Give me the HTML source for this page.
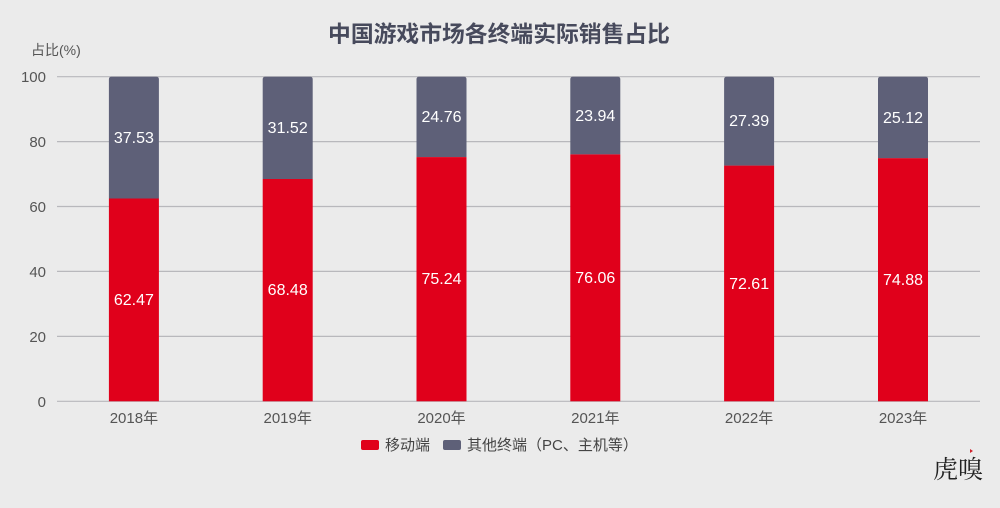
<!DOCTYPE html>
<html><head><meta charset="utf-8"><style>
html,body{margin:0;padding:0;background:#ebebeb;}
svg{display:block;}
text{font-family:"Liberation Sans","Noto Sans CJK SC",sans-serif;}
</style></head><body>
<svg width="1000" height="508" viewBox="0 0 1000 508" xmlns="http://www.w3.org/2000/svg">
<rect width="1000" height="508" fill="#ebebeb"/>
<text x="499" y="42" text-anchor="middle" font-size="22.8" font-weight="bold" fill="#474a5c">中国游戏市场各终端实际销售占比</text>
<text x="31" y="55" font-size="14" fill="#555">占比(%)</text>
<g stroke="#b8b8bc" stroke-width="1.2">
<line x1="57" y1="76.7" x2="980" y2="76.7"/>
<line x1="57" y1="141.6" x2="980" y2="141.6"/>
<line x1="57" y1="206.5" x2="980" y2="206.5"/>
<line x1="57" y1="271.4" x2="980" y2="271.4"/>
<line x1="57" y1="336.4" x2="980" y2="336.4"/>
<line x1="57" y1="401.3" x2="980" y2="401.3"/>
</g>
<g font-size="15" fill="#555" text-anchor="end">
<text x="46" y="82">100</text>
<text x="46" y="147">80</text>
<text x="46" y="212">60</text>
<text x="46" y="277">40</text>
<text x="46" y="342">20</text>
<text x="46" y="407">0</text>
</g>
<g>
<path d="M108.9 198.5 V79.2 Q108.9 76.7 111.4 76.7 H156.4 Q158.9 76.7 158.9 79.2 V198.5 Z" fill="#5e6078"/>
<rect x="108.9" y="198.5" width="50" height="202.8" fill="#e0001b"/>
<path d="M262.7 179.0 V79.2 Q262.7 76.7 265.2 76.7 H310.2 Q312.7 76.7 312.7 79.2 V179.0 Z" fill="#5e6078"/>
<rect x="262.7" y="179.0" width="50" height="222.3" fill="#e0001b"/>
<path d="M416.5 157.1 V79.2 Q416.5 76.7 419 76.7 H464 Q466.5 76.7 466.5 79.2 V157.1 Z" fill="#5e6078"/>
<rect x="416.5" y="157.1" width="50" height="244.2" fill="#e0001b"/>
<path d="M570.3 154.4 V79.2 Q570.3 76.7 572.8 76.7 H617.8 Q620.3 76.7 620.3 79.2 V154.4 Z" fill="#5e6078"/>
<rect x="570.3" y="154.4" width="50" height="246.9" fill="#e0001b"/>
<path d="M724.1 165.6 V79.2 Q724.1 76.7 726.6 76.7 H771.6 Q774.1 76.7 774.1 79.2 V165.6 Z" fill="#5e6078"/>
<rect x="724.1" y="165.6" width="50" height="235.7" fill="#e0001b"/>
<path d="M878 158.2 V79.2 Q878 76.7 880.5 76.7 H925.5 Q928 76.7 928 79.2 V158.2 Z" fill="#5e6078"/>
<rect x="878" y="158.2" width="50" height="243.1" fill="#e0001b"/>
</g>
<g font-size="16" fill="#ffffff" text-anchor="middle">
<text x="133.9" y="143">37.53</text>
<text x="133.9" y="305">62.47</text>
<text x="287.7" y="133">31.52</text>
<text x="287.7" y="295">68.48</text>
<text x="441.5" y="122">24.76</text>
<text x="441.5" y="284">75.24</text>
<text x="595.3" y="121">23.94</text>
<text x="595.3" y="283">76.06</text>
<text x="749.1" y="126">27.39</text>
<text x="749.1" y="289">72.61</text>
<text x="903" y="123">25.12</text>
<text x="903" y="285">74.88</text>
</g>
<g font-size="15" fill="#555" text-anchor="middle">
<text x="133.9" y="423">2018年</text>
<text x="287.7" y="423">2019年</text>
<text x="441.5" y="423">2020年</text>
<text x="595.3" y="423">2021年</text>
<text x="749.1" y="423">2022年</text>
<text x="903" y="423">2023年</text>
</g>
<rect x="361" y="440" width="18" height="10" rx="2" fill="#e0001b"/>
<text x="385" y="450" font-size="15" fill="#444">移动端</text>
<rect x="443" y="440" width="18" height="10" rx="2" fill="#5e6078"/>
<text x="467" y="450" font-size="15" fill="#444">其他终端（PC、主机等）</text>
<text x="933" y="478" font-size="25" fill="#222" style="font-family:'Noto Serif CJK SC','Liberation Serif',serif">虎嗅</text>
<path d="M970 449 l3 2 l-3 2 z" fill="#d0202a"/>
</svg>
</body></html>
